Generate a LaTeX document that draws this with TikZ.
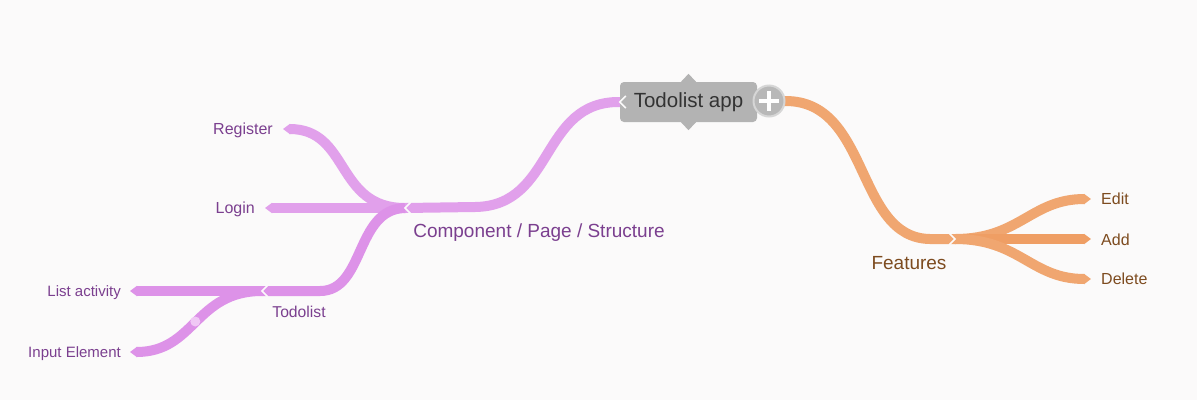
\documentclass[tikz,border=0pt]{standalone}
\usepackage{fontspec}
\setmainfont{Liberation Sans}
\usetikzlibrary{arrows.meta,calc}
\definecolor{bg}{HTML}{FBFAFA}
\definecolor{pinkA}{HTML}{E1A0EB}
\definecolor{pinkB}{HTML}{DD92E8}
\definecolor{dotpink}{HTML}{F0C8F5}
\definecolor{purpletext}{HTML}{7B3F8F}
\definecolor{orangeline}{HTML}{F0A670}
\definecolor{orangeB}{HTML}{EF9E64}
\definecolor{browntext}{HTML}{7D4B1F}
\definecolor{boxgray}{HTML}{B3B3B3}
\definecolor{plusgray}{HTML}{B8B8B8}
\definecolor{plusring}{HTML}{D6D6D6}
\definecolor{darktext}{HTML}{333333}
\pgfdeclarelayer{bgl}
\pgfdeclarelayer{lines}
\pgfsetlayers{bgl,lines,main}
\begin{document}
\begin{tikzpicture}[x=1pt,y=-1pt,
  branch/.style={line width=10pt, line cap=butt},
  leaftip/.style={-{Triangle[length=7pt,width=10pt]}},
  notch/.style={draw=bg, line width=1.6pt},
  rootbox/.style={fill=boxgray, rounded corners=4pt, minimum width=137pt, minimum height=40pt, inner sep=0pt, text=darktext, font=\fontsize{20.5}{24}\selectfont},
  biglbl/.style={inner sep=0pt, font=\fontsize{19}{22}\selectfont},
  midlbl/.style={inner sep=0pt, font=\fontsize{16}{19}\selectfont},
  smalllbl/.style={inner sep=0pt, font=\fontsize{15}{18}\selectfont},
  dotnode/.style={circle, fill=dotpink, minimum size=10pt, inner sep=0pt}]
\useasboundingbox (0,0) rectangle (1197,400);
\begin{pgfonlayer}{bgl}
\fill[bg] (0,0) rectangle (1197,400);
\end{pgfonlayer}

% root
\node[rootbox] (root) at (688.5,102) {Todolist app};
\fill[boxgray] ($(root.north)+(-8,0.5)$) -- ($(root.north)+(0,-8)$) -- ($(root.north)+(8,0.5)$) -- cycle;
\fill[boxgray] ($(root.south)+(-8,-0.5)$) -- ($(root.south)+(0,8)$) -- ($(root.south)+(8,-0.5)$) -- cycle;
\draw[notch] ($(root.west)+(6,-6)$) -- ($(root.west)+(0,0)$) -- ($(root.west)+(6,6)$);
\node[circle, fill=plusgray, draw=plusring, line width=2pt, minimum size=31pt, inner sep=0pt] (plus) at (769,101) {};
\draw[white, line width=3.5pt] ($(plus.center)+(-10,0)$) -- ($(plus.center)+(10,0)$);
\draw[white, line width=3.5pt] ($(plus.center)+(0,-10)$) -- ($(plus.center)+(0,10)$);

% labels
\node[biglbl, text=purpletext] (comp) at (539,233) {Component / Page / Structure};
\node[biglbl, text=browntext] (feat) at (909,263) {Features};
\node[midlbl, text=purpletext, anchor=east] (reg) at (273,130.5) {Register};
\node[midlbl, text=purpletext, anchor=east] (login) at (255,209.5) {Login};
\node[smalllbl, text=purpletext, font=\fontsize{15.7}{18}\selectfont] (todo) at (299,312) {Todolist};
\node[smalllbl, text=purpletext, anchor=east] (list) at (121,292.5) {List activity};
\node[smalllbl, text=purpletext, anchor=east] (inp) at (121,353.5) {Input Element};
\node[midlbl, text=browntext, anchor=west] (edit) at (1101,199) {Edit};
\node[midlbl, text=browntext, anchor=west] (add) at (1101,240) {Add};
\node[midlbl, text=browntext, anchor=west] (del) at (1101,279) {Delete};

% junction and tip coordinates
\coordinate (compJ) at (405,208);
\coordinate (todoJ) at (262,291);
\coordinate (featJ) at (955,239);
\coordinate (regE) at (283,129);
\coordinate (loginE) at (265,208);
\coordinate (listE) at (130,291);
\coordinate (inpE) at (130,352);
\coordinate (editE) at (1091,199);
\coordinate (addE) at (1091,239);
\coordinate (delE) at (1091,279);

\begin{pgfonlayer}{lines}
% root -> component
\draw[branch, pinkA] (root.west) .. controls +(-80,-1) and +(80,-1) .. ($(compJ)+(70,-1)$) -- (compJ);
% root -> features
\draw[branch, orangeline] (plus.center) -- (plus.east) .. controls +(85,0) and +(-75,-1) .. ($(featJ)+(-25,0)$) -- (featJ);
% component children
\draw[branch, pinkA, leaftip] (compJ) .. controls +(-70,0) and +(67,0) .. (regE);
\draw[branch, pinkA, leaftip] (compJ) -- (loginE);
\draw[branch, pinkB] (compJ) .. controls +(-50,1) and +(45,0) .. ($(todoJ)+(58,0)$) -- (todoJ);
% todolist children
\draw[branch, pinkB, leaftip] (todoJ) -- (listE);
\draw[branch, pinkB, leaftip] (todoJ) .. controls +(-67,0) and +(65,0) .. (inpE);
% features children
\draw[branch, orangeline, leaftip] (featJ) .. controls +(65,0) and +(-60,0) .. (editE);
\draw[branch, orangeB, leaftip] (featJ) -- (addE);
\draw[branch, orangeline, leaftip] (featJ) .. controls +(65,0) and +(-60,0) .. (delE);
% notches
\draw[notch] ($(compJ)+(6,-6)$) -- (compJ) -- ($(compJ)+(6,6)$);
\draw[notch] ($(todoJ)+(6,-6)$) -- (todoJ) -- ($(todoJ)+(6,6)$);
\draw[notch] ($(featJ)+(-6,-6)$) -- (featJ) -- ($(featJ)+(-6,6)$);
\end{pgfonlayer}
\node[dotnode] (dot) at (195.3,321.5) {};
\end{tikzpicture}
\end{document}
